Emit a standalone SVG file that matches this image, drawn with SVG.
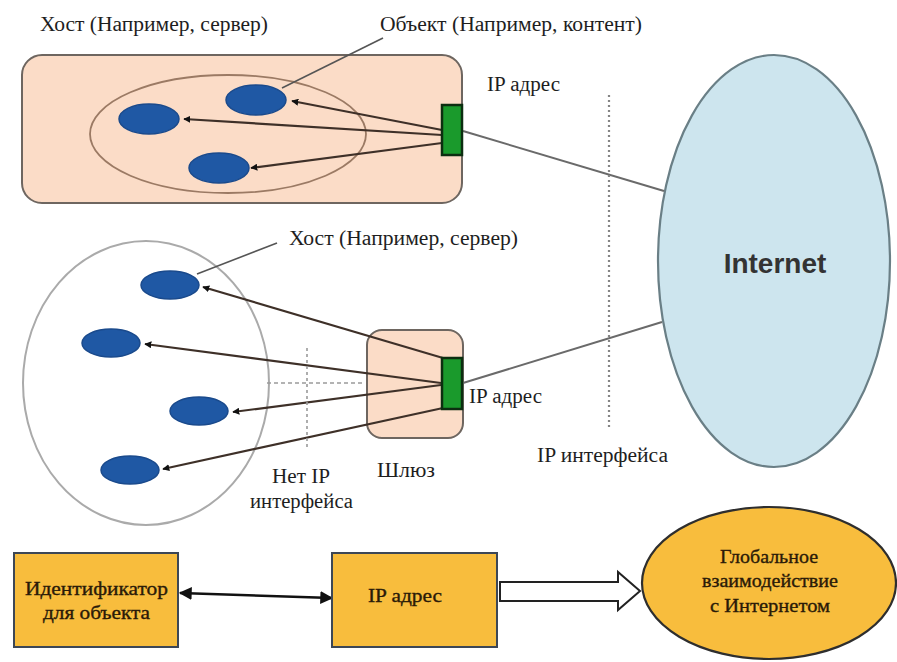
<svg xmlns="http://www.w3.org/2000/svg" width="897" height="662" viewBox="0 0 897 662">
  <defs>
    <marker id="dot" viewBox="0 0 10 10" refX="9" refY="5" markerWidth="7" markerHeight="7" markerUnits="userSpaceOnUse" orient="auto-start-reverse">
      <path d="M0,0 L10,5 L0,10 z" fill="#111"/>
    </marker>
    <marker id="head" viewBox="0 0 10 10" refX="9" refY="5" markerWidth="13" markerHeight="13" markerUnits="userSpaceOnUse" orient="auto-start-reverse">
      <path d="M0,0 L10,5 L0,10 z" fill="#111"/>
    </marker>
  </defs>
  <style>
    .lbl { font-family: "Liberation Serif", "Times New Roman", serif; font-size: 20px; fill: #1e1e1e; }
    .blbl { font-family: "Liberation Serif", "Times New Roman", serif; font-size: 19px; fill: #2a1a08; stroke: #2a1a08; stroke-width: 0.35; }
    .obj { fill: #1f58a4; stroke: #1a4a8c; stroke-width: 1.5; }
    .port { fill: #1a9a2c; stroke: #0c2e10; stroke-width: 2.5; }
    .peach { fill: #fbdcc7; stroke: #6e6660; stroke-width: 2; }
    .flow { stroke: #3e3028; stroke-width: 2.2; fill: none; marker-end: url(#dot); }
    .link { stroke: #6a6a6a; stroke-width: 2; fill: none; }
    .leader { stroke: #555; stroke-width: 1.6; fill: none; }
    .gold { fill: #f8bd3d; stroke: #3d4756; stroke-width: 2; }
  </style>

  <rect width="897" height="662" fill="#ffffff"/>

  <!-- upper host: server with its content objects -->
  <g id="host-top">
    <rect class="peach" x="22" y="55" width="440" height="148" rx="20"/>
    <ellipse cx="228" cy="134" rx="138" ry="59" fill="none" stroke="#9b7a64" stroke-width="1.8"/>
  </g>
  <g id="obj-top-1"><ellipse class="obj" cx="256" cy="100" rx="30" ry="15"/></g>
  <g id="obj-top-2"><ellipse class="obj" cx="149" cy="119" rx="30" ry="15"/></g>
  <g id="obj-top-3"><ellipse class="obj" cx="219" cy="168" rx="30" ry="15"/></g>

  <!-- lower part: non-IP devices behind a gateway -->
  <g id="device-cloud">
    <ellipse cx="146" cy="383" rx="123" ry="142" fill="#ffffff" stroke="#aaaaaa" stroke-width="2"/>
  </g>
  <g id="dev-1"><ellipse class="obj" cx="170" cy="285" rx="29" ry="14"/></g>
  <g id="dev-2"><ellipse class="obj" cx="111" cy="343" rx="29" ry="14"/></g>
  <g id="dev-3"><ellipse class="obj" cx="199" cy="411" rx="29" ry="14"/></g>
  <g id="dev-4"><ellipse class="obj" cx="130" cy="470" rx="29" ry="14"/></g>

  <g id="gateway">
    <rect class="peach" x="367" y="330" width="96" height="108" rx="15" stroke="#8a7a6c"/>
  </g>

  <!-- Internet cloud -->
  <g id="internet">
    <ellipse cx="774" cy="261" rx="116" ry="206" fill="#cde5ee" stroke="#6a7f86" stroke-width="2.2"/>
    <text x="775" y="273" text-anchor="middle" font-family="Liberation Sans, Arial, sans-serif" font-size="28" font-weight="bold" fill="#333">Internet</text>
  </g>

  <!-- connectors -->
  <g id="connectors">
    <!-- host top: IP port to objects -->
    <line class="flow" x1="442" y1="130" x2="292" y2="101"/>
    <line class="flow" x1="442" y1="135" x2="184" y2="119"/>
    <line class="flow" x1="442" y1="143" x2="251" y2="168"/>
    <!-- gateway: IP port to devices -->
    <line class="flow" x1="443" y1="358" x2="203" y2="287"/>
    <line class="flow" x1="441" y1="383" x2="145" y2="344"/>
    <line class="flow" x1="441" y1="385" x2="233" y2="412"/>
    <line class="flow" x1="443" y1="408" x2="163" y2="469"/>
    <!-- uplinks to the Internet -->
    <line class="link" x1="463" y1="131" x2="664" y2="191"/>
    <line class="link" x1="463" y1="383" x2="662" y2="322"/>
    <!-- label leaders -->
    <line class="leader" x1="383" y1="38" x2="282" y2="88"/>
    <line class="leader" x1="277" y1="243" x2="197" y2="274"/>
    <!-- interface boundaries -->
    <line x1="609" y1="95" x2="609" y2="427" stroke="#858585" stroke-width="2.2" stroke-dasharray="2 3"/>
    <line x1="267" y1="383" x2="365" y2="383" stroke="#9a9a9a" stroke-width="1.6" stroke-dasharray="4 3"/>
    <line x1="307" y1="348" x2="307" y2="447" stroke="#9a9a9a" stroke-width="1.6" stroke-dasharray="3 3"/>
    <!-- bottom flow -->
    <line x1="180" y1="593" x2="332" y2="598" stroke="#111" stroke-width="2.6" marker-start="url(#head)" marker-end="url(#head)"/>
    <polygon points="500,582 618,582 618,572 640,591 618,610 618,601 500,601" fill="#ffffff" stroke="#222" stroke-width="2"/>
  </g>

  <!-- IP ports (drawn over the arrow tails) -->
  <g id="port-top"><rect class="port" x="442" y="105" width="20" height="50"/></g>
  <g id="port-gw"><rect class="port" x="442" y="358" width="20" height="51"/></g>

  <!-- labels -->
  <g id="labels">
    <text class="lbl" x="40" y="31" textLength="228" lengthAdjust="spacingAndGlyphs">Хост (Например, сервер)</text>
    <text class="lbl" x="380" y="31" textLength="262" lengthAdjust="spacingAndGlyphs">Объект (Например, контент)</text>
    <text class="lbl" x="487" y="91" textLength="73" lengthAdjust="spacingAndGlyphs">IP адрес</text>
    <text class="lbl" x="289" y="245" textLength="229" lengthAdjust="spacingAndGlyphs">Хост (Например, сервер)</text>
    <text class="lbl" x="469" y="403" textLength="73" lengthAdjust="spacingAndGlyphs">IP адрес</text>
    <text class="lbl" x="537" y="462" textLength="131" lengthAdjust="spacingAndGlyphs">IP интерфейса</text>
    <text class="lbl" x="272" y="483" textLength="58" lengthAdjust="spacingAndGlyphs">Нет IP</text>
    <text class="lbl" x="250" y="508" textLength="103" lengthAdjust="spacingAndGlyphs">интерфейса</text>
    <text class="lbl" x="377" y="477" textLength="58" lengthAdjust="spacingAndGlyphs">Шлюз</text>
  </g>

  <!-- bottom row -->
  <g id="box-identifier">
    <rect class="gold" x="14" y="553" width="164" height="94"/>
    <text class="blbl" x="25" y="595" textLength="143" lengthAdjust="spacingAndGlyphs">Идентификатор</text>
    <text class="blbl" x="43" y="619" textLength="107" lengthAdjust="spacingAndGlyphs">для объекта</text>
  </g>
  <g id="box-ip">
    <rect class="gold" x="332" y="553" width="165" height="94"/>
    <text class="blbl" x="368" y="602" textLength="74" lengthAdjust="spacingAndGlyphs">IP адрес</text>
  </g>
  <g id="global">
    <ellipse cx="769" cy="583" rx="127" ry="76" fill="#f8bd3d" stroke="#2e2e2e" stroke-width="2.2"/>
    <text class="blbl" x="720" y="563" textLength="98" lengthAdjust="spacingAndGlyphs">Глобальное</text>
    <text class="blbl" x="702" y="587" textLength="136" lengthAdjust="spacingAndGlyphs">взаимодействие</text>
    <text class="blbl" x="710" y="612" textLength="120" lengthAdjust="spacingAndGlyphs">с Интернетом</text>
  </g>
</svg>
